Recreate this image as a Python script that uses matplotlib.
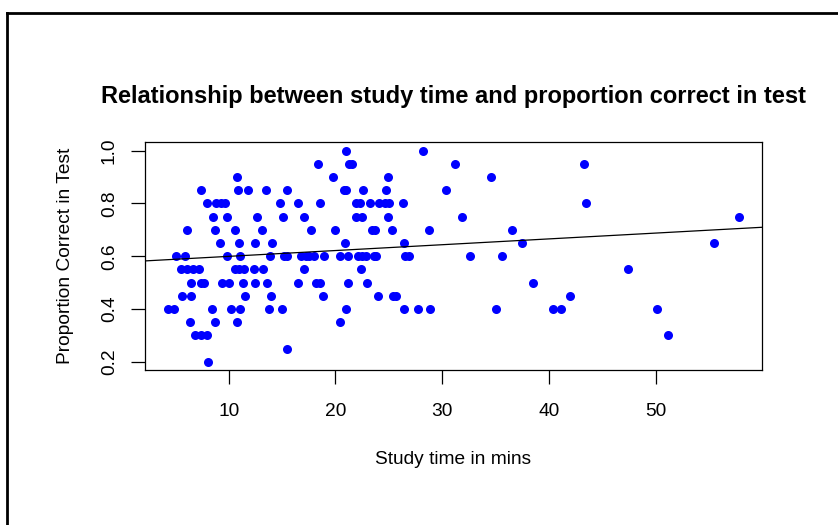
import numpy as np
import matplotlib
matplotlib.use("Agg")
import matplotlib.pyplot as plt
from matplotlib.lines import Line2D

plt.rcParams['font.family'] = ['Liberation Sans', 'DejaVu Sans']

# study time (mins) grouped by the proportion correct in the test
prop_levels = [0.2, 0.25, 0.3, 0.35, 0.4, 0.45, 0.5, 0.55, 0.6, 0.65,
               0.7, 0.75, 0.8, 0.85, 0.9, 0.95, 1.0]
study_times = [
    [8.1],
    [15.5],
    [6.8, 7.4, 8.0, 51.2],
    [6.4, 8.7, 10.8, 20.4],
    [4.3, 4.9, 8.4, 10.2, 11.1, 13.8, 15.0, 21.0, 26.4, 27.7, 28.9, 35.0,
     40.4, 41.1, 50.1],
    [5.6, 6.5, 11.5, 14.0, 18.8, 24.0, 25.4, 25.7, 42.0],
    [6.5, 7.4, 7.7, 9.4, 10.0, 11.3, 12.5, 13.6, 16.5, 18.2, 18.6, 21.2,
     23.0, 38.5],
    [5.5, 6.1, 6.7, 7.2, 10.6, 11.0, 11.4, 12.4, 13.2, 17.1, 22.4, 47.4],
    [5.1, 5.9, 9.8, 11.1, 13.9, 15.2, 15.5, 16.8, 17.2, 17.5, 18.0, 18.9,
     20.4, 21.2, 22.1, 22.5, 22.9, 23.6, 23.8, 26.5, 26.85, 32.6, 35.6],
    [9.2, 11.0, 12.5, 14.1, 20.9, 26.4, 37.5, 55.5],
    [6.1, 8.7, 10.6, 13.1, 17.7, 20.0, 23.4, 23.7, 25.3, 28.8, 36.5],
    [8.5, 9.8, 12.7, 15.1, 17.1, 21.9, 22.5, 24.9, 31.9, 57.8],
    [8.0, 8.8, 9.3, 9.7, 14.8, 16.5, 18.6, 21.9, 22.3, 23.2, 24.1, 24.6,
     25.0, 26.3, 43.5],
    [7.4, 10.9, 11.8, 13.5, 15.5, 20.8, 21.0, 22.6, 24.7, 30.4],
    [10.8, 19.8, 24.9, 34.6],
    [18.35, 21.25, 21.6, 31.2, 43.3],
    [21.0, 28.2],
]

x = np.array([t for ts in study_times for t in ts])
y = np.array([p for p, ts in zip(prop_levels, study_times) for _ in ts])

fig = plt.figure(figsize=(8.38, 5.25), dpi=100)
ax = fig.add_axes([0.173, 0.295, 0.736, 0.434])

ax.plot(x, y, 'o', color='#0000ff', markersize=6.5, markeredgewidth=0)

# least squares line across the whole plot region
slope, intercept = np.polyfit(x, y, 1)
ax.axline((0, intercept), slope=slope, color='black', lw=0.9)

# R style 4% padding around the data range
xr = x.max() - x.min()
yr = y.max() - y.min()
ax.set_xlim(x.min() - 0.04 * xr, x.max() + 0.04 * xr)
ax.set_ylim(y.min() - 0.04 * yr, y.max() + 0.04 * yr)

ax.set_xticks([10, 20, 30, 40, 50])
ax.set_yticks([0.2, 0.4, 0.6, 0.8, 1.0])
ax.set_yticklabels(['0.2', '0.4', '0.6', '0.8', '1.0'], rotation=90, va='center')
ax.tick_params(direction='out', length=10, width=0.9, labelsize=13.8)
ax.tick_params(axis='x', pad=14)
ax.tick_params(axis='y', pad=9.5)
for s in ax.spines.values():
    s.set_linewidth(0.9)

ax.set_title('Relationship between study time and proportion correct in test',
             fontsize=17, fontweight='bold', pad=28)
ax.set_xlabel('Study time in mins', fontsize=13.8, labelpad=22)
ax.set_ylabel('Proportion Correct in Test', fontsize=13.8, labelpad=19.5)

# frame edges along the top and left of the canvas
fig.add_artist(Line2D([6.5 / 838, 6.5 / 838], [0, 1 - 13 / 525],
                      transform=fig.transFigure, color='black', lw=2))
fig.add_artist(Line2D([6.5 / 838, 1], [1 - 13 / 525, 1 - 13 / 525],
                      transform=fig.transFigure, color='black', lw=2))

fig.savefig('out.png', dpi=100)
